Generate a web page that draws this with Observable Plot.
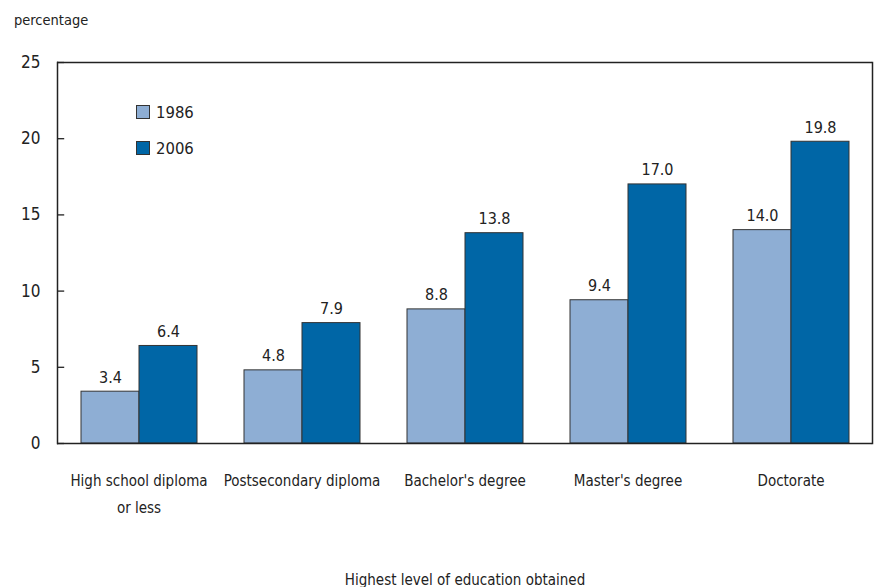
<!DOCTYPE html>
<html>
<head>
<meta charset="utf-8">
<script src="https://cdn.jsdelivr.net/npm/d3@7"></script>
<script src="https://cdn.jsdelivr.net/npm/@observablehq/plot@0.6"></script>
<style>
  body { margin: 0; background: #fff; font-family: "Liberation Sans Narrow", "DejaVu Sans Condensed", sans-serif; font-stretch: condensed; color: #222; }
  #wrap { position: relative; width: 875px; height: 587px; }
  #ylabel { height: 40px; font-size: 14.5px; line-height: 40px; padding-left: 14px; box-sizing: border-box; }
  #legend { position: absolute; left: 136px; top: 94px; font-size: 16.5px; }
  .item { display: flex; align-items: center; height: 36px; }
  .sw { width: 14px; height: 14px; border: 1px solid #333; margin-right: 6px; box-sizing: border-box; }
</style>
</head>
<body>
<div id="wrap">
  <div id="ylabel">percentage</div>
  <div id="chart"></div>
  <div id="legend"></div>
</div>
<script>
const categories = ["High school diploma\nor less", "Postsecondary diploma", "Bachelor's degree", "Master's degree", "Doctorate"];
const years = ["1986", "2006"];
const values1986 = [3.4, 4.8, 8.8, 9.4, 14.0];
const values2006 = [6.4, 7.9, 13.8, 17.0, 19.8];
const yTicks = [0, 5, 10, 15, 20, 25];
const colors = ["#8eaed4", "#0066a6"];
const xTitle = "Highest level of education obtained";
const FONT = "'Liberation Sans Narrow', 'DejaVu Sans Condensed', sans-serif";

const data = categories.flatMap((c, i) => [
  {cat: c, year: years[0], value: values1986[i]},
  {cat: c, year: years[1], value: values2006[i]}
]);

const chart = Plot.plot({
  width: 875,
  height: 547,
  marginTop: 22,
  marginLeft: 55,
  marginRight: 1,
  marginBottom: 144,
  style: {fontFamily: FONT, fontStretch: "condensed", fontSize: "15px", color: "#222", background: "#fff"},
  fx: {domain: categories, padding: 0, label: xTitle},
  x: {domain: years, paddingInner: 0, paddingOuter: 0.39, axis: null},
  y: {domain: [0, 25]},
  color: {domain: years, range: colors},
  marks: [
    Plot.barY(data, {fx: "cat", x: "year", y: "value", fill: "year", stroke: "#333", strokeWidth: 1}),
    Plot.text(data, {fx: "cat", x: "year", y: "value", text: d => d.value.toFixed(1), lineAnchor: "bottom", dy: -9, fontSize: 16, fill: "#222"}),
    Plot.axisY({ticks: yTicks, tickSize: 0, tickPadding: 17, label: null, fontSize: 17}),
    Plot.ruleY(yTicks, {facetAnchor: "left", insetRight: 155.8, stroke: "#222", strokeWidth: 1.3}),
    Plot.axisFx({anchor: "bottom", tickSize: 0, tickPadding: 23, label: xTitle, labelAnchor: "center", lineHeight: 1.8, fontSize: 15}),
    Plot.ruleY([0, 25], {stroke: "#222", strokeWidth: 1.5}),
    Plot.frame({anchor: "left", facetAnchor: "left", stroke: "#222", strokeWidth: 1.5}),
    Plot.frame({anchor: "right", facetAnchor: "right", stroke: "#222", strokeWidth: 1.5})
  ]
});
document.getElementById("chart").appendChild(chart);

const legend = document.getElementById("legend");
years.forEach((y, i) => {
  const item = document.createElement("div");
  item.className = "item";
  const sw = document.createElement("div");
  sw.className = "sw";
  sw.style.background = colors[i];
  const t = document.createElement("span");
  t.textContent = y;
  item.appendChild(sw);
  item.appendChild(t);
  legend.appendChild(item);
});
</script>
</body>
</html>
